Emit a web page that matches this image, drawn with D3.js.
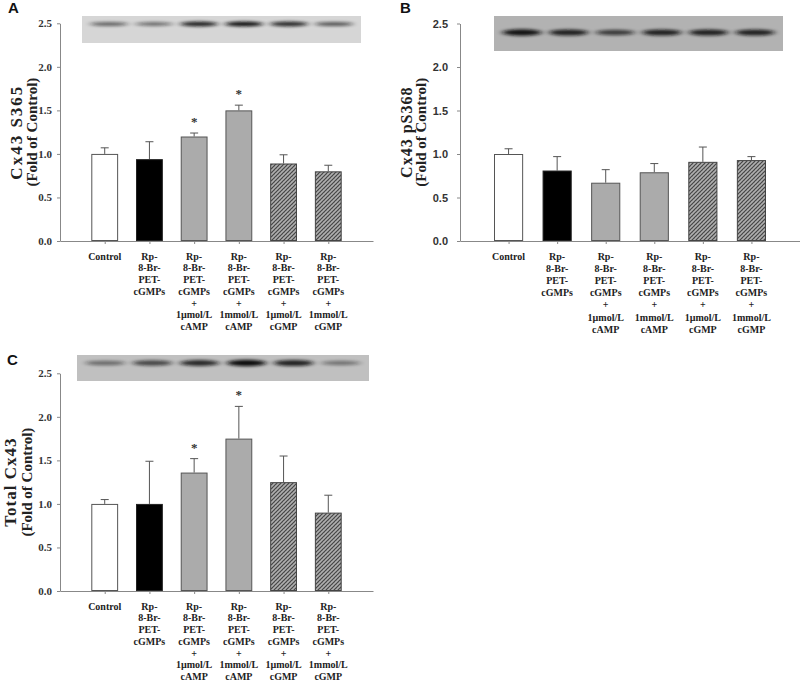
<!DOCTYPE html>
<html>
<head>
<meta charset="utf-8">
<script src="https://cdn.jsdelivr.net/npm/d3@7"></script>
<style>
  html, body { margin: 0; padding: 0; background: #fff; }
  svg { display: block; }
</style>
</head>
<body>
<svg id="chart" width="800" height="681"></svg>
<script>
// ---------------- DATA ----------------
const categories = [
  "Control",
  "Rp-8-Br-PET-cGMPs",
  "Rp-8-Br-PET-cGMPs + 1µmol/L cAMP",
  "Rp-8-Br-PET-cGMPs + 1mmol/L cAMP",
  "Rp-8-Br-PET-cGMPs + 1µmol/L cGMP",
  "Rp-8-Br-PET-cGMPs + 1mmol/L cGMP"
];
const categoryLines = [
  ["Control"],
  ["Rp-", "8-Br-", "PET-", "cGMPs"],
  ["Rp-", "8-Br-", "PET-", "cGMPs", "+", "1µmol/L", "cAMP"],
  ["Rp-", "8-Br-", "PET-", "cGMPs", "+", "1mmol/L", "cAMP"],
  ["Rp-", "8-Br-", "PET-", "cGMPs", "+", "1µmol/L", "cGMP"],
  ["Rp-", "8-Br-", "PET-", "cGMPs", "+", "1mmol/L", "cGMP"]
];
const barStyle = ["white", "black", "gray", "gray", "hatch", "hatch"];

const yTicks = [0, 0.5, 1.0, 1.5, 2.0, 2.5];

// Panel A: Cx43 S365
const meanA = [1.00, 0.94, 1.20, 1.50, 0.89, 0.80];
const errA  = [0.07, 0.20, 0.04, 0.06, 0.10, 0.07];
const sigA  = [false, false, true, true, false, false];
const blotA = [0.45, 0.40, 0.85, 0.95, 0.80, 0.55];

// Panel B: Cx43 pS368
const meanB = [1.00, 0.81, 0.67, 0.79, 0.91, 0.93];
const errB  = [0.06, 0.16, 0.15, 0.10, 0.17, 0.04];
const sigB  = [false, false, false, false, false, false];
const blotB = [0.95, 0.85, 0.65, 0.85, 0.85, 0.85];

// Panel C: Total Cx43
const meanC = [1.00, 1.00, 1.36, 1.75, 1.25, 0.90];
const errC  = [0.05, 0.49, 0.16, 0.37, 0.30, 0.20];
const sigC  = [false, false, true, true, false, false];
const blotC = [0.35, 0.60, 0.80, 1.00, 0.85, 0.30];

// ---------------- RENDER ----------------
const SERIF = "'Liberation Serif','Times New Roman',serif";
const SANS = "'Liberation Sans',Arial,sans-serif";
const svg = d3.select("#chart");
const defs = svg.append("defs");

// hatch pattern
const pat = defs.append("pattern")
  .attr("id", "hatch").attr("patternUnits", "userSpaceOnUse")
  .attr("width", 4).attr("height", 4);
pat.append("rect").attr("width", 4).attr("height", 4).attr("fill", "#b0b0b0");
pat.append("path").attr("d", "M-1,1 l2,-2 M0,4 l4,-4 M3,5 l2,-2")
  .attr("stroke", "#454545").attr("stroke-width", 1.2);
pat.append("path").attr("d", "M0,0 l1,1 M2,2 l1,1")
  .attr("stroke", "#7a7a7a").attr("stroke-width", 0.6);

// blur filter for blot bands
const f = defs.append("filter").attr("id", "blur").attr("x", "-30%").attr("y", "-200%")
  .attr("width", "160%").attr("height", "500%");
f.append("feGaussianBlur").attr("stdDeviation", "3 1.5");

const fills = { white: "#ffffff", black: "#000000", gray: "#ababab", hatch: "url(#hatch)" };
const strokes = { white: "#555", black: "#222", gray: "#555", hatch: "#444" };

function panel(cfg) {
  const g = svg.append("g");
  const x = d3.scaleLinear().domain([0, 7]).range([cfg.x0, cfg.x1]);
  const y = d3.scaleLinear().domain([0, 2.5]).range([cfg.yBottom, cfg.yTop]);
  const step = x(1) - x(0);
  const bw = step * 0.6;

  // blot image
  const bl = cfg.blot;
  const bg = g.append("g");
  bg.append("rect").attr("x", bl.x).attr("y", bl.y).attr("width", bl.w).attr("height", bl.h)
    .attr("fill", bl.bg);
  const lane = d3.scalePoint().domain(d3.range(6)).range([bl.x, bl.x + bl.w]).padding(0.6);
  bg.selectAll("ellipse").data(bl.values).join("ellipse")
    .attr("cx", (d, i) => lane(i))
    .attr("cy", bl.y + bl.bandY)
    .attr("rx", lane.step() * 0.42)
    .attr("ry", d => bl.bandH * (0.6 + 0.5 * d))
    .attr("fill", "#111")
    .attr("opacity", d => 0.2 + 0.8 * d)
    .attr("filter", "url(#blur)");

  // axes
  const yAxis = d3.axisLeft(y).tickValues(yTicks).tickFormat(d3.format(".1f"))
    .tickSizeInner(3).tickSizeOuter(0).tickPadding(cfg.tickPad);
  const ya = g.append("g").attr("transform", `translate(${cfg.x0},0)`).call(yAxis);
  ya.select(".domain").attr("stroke", "#888");
  ya.selectAll(".tick line").attr("stroke", "#888");
  ya.selectAll(".tick text").attr("font-family", cfg.tickFont).attr("font-weight", "bold")
    .attr("font-size", cfg.tickSize).attr("fill", "#333");

  const xAxis = d3.axisBottom(x).tickValues(d3.range(1, 7)).tickFormat("")
    .tickSizeInner(3).tickSizeOuter(0);
  const xa = g.append("g").attr("transform", `translate(0,${cfg.yBottom})`).call(xAxis);
  xa.select(".domain").attr("stroke", "#888");
  xa.selectAll(".tick line").attr("stroke", "#888");

  // category labels
  const lab = g.append("g");
  categoryLines.forEach((lines, i) => {
    const t = lab.append("text").attr("text-anchor", "middle")
      .attr("font-family", SERIF).attr("font-weight", "bold").attr("font-size", 10)
      .attr("fill", "#222");
    lines.forEach((ln, k) => {
      t.append("tspan").attr("x", x(i + 1)).attr("y", cfg.yBottom + 18.5 + k * cfg.lineH).text(ln);
    });
  });

  // bars
  const data = cfg.mean.map((m, i) => ({ m, e: cfg.err[i], s: cfg.sig[i], st: barStyle[i], i }));
  const bars = g.append("g");
  bars.selectAll("line.err").data(data).join("line").attr("class", "err")
    .attr("x1", d => x(d.i + 1)).attr("x2", d => x(d.i + 1))
    .attr("y1", d => y(d.m)).attr("y2", d => y(d.m + d.e))
    .attr("stroke", "#555").attr("stroke-width", 1);
  bars.selectAll("line.cap").data(data).join("line").attr("class", "cap")
    .attr("x1", d => x(d.i + 1) - 4).attr("x2", d => x(d.i + 1) + 4)
    .attr("y1", d => y(d.m + d.e)).attr("y2", d => y(d.m + d.e))
    .attr("stroke", "#555").attr("stroke-width", 1);
  bars.selectAll("rect").data(data).join("rect")
    .attr("x", d => x(d.i + 1) - bw / 2 + 0.5)
    .attr("y", d => y(d.m) + 0.5)
    .attr("width", bw - 1)
    .attr("height", d => y(0) - y(d.m) - 1)
    .attr("fill", d => fills[d.st])
    .attr("stroke", d => strokes[d.st]).attr("stroke-width", 1);
  bars.selectAll("text.sig").data(data.filter(d => d.s)).join("text").attr("class", "sig")
    .attr("x", d => x(d.i + 1)).attr("y", d => y(d.m + d.e) - 14 + 7)
    .attr("text-anchor", "middle").attr("font-family", SERIF).attr("font-weight", "bold")
    .attr("font-size", 13).attr("fill", "#333").text("*");

  // y label
  const cy = (cfg.yTop + cfg.yBottom) / 2;
  g.append("text").attr("transform", `translate(${cfg.lab1X},${cy}) rotate(-90)`)
    .attr("text-anchor", "middle").attr("font-family", SERIF).attr("font-weight", "bold")
    .attr("font-size", cfg.lab1Size).attr("letter-spacing", cfg.lab1LS).attr("fill", "#222")
    .text(cfg.label1);
  g.append("text").attr("transform", `translate(${cfg.lab2X},${cy}) rotate(-90)`)
    .attr("text-anchor", "middle").attr("font-family", SERIF).attr("font-weight", "bold")
    .attr("font-size", 15).attr("fill", "#222")
    .text("(Fold of Control)");

  svg.append("text").attr("x", cfg.letterX).attr("y", cfg.letterY)
    .attr("font-family", SANS).attr("font-weight", "bold").attr("font-size", 15)
    .attr("fill", "#111").text(cfg.letter);
}

panel({
  letter: "A", letterX: 8, letterY: 13,
  x0: 60, x1: 373, yTop: 23.3, yBottom: 241,
  mean: meanA, err: errA, sig: sigA,
  blot: { x: 82, y: 16, w: 279, h: 27, bg: "#d6d6d6", bandY: 8, bandH: 2.4, values: blotA },
  tickFont: SERIF, tickSize: 11, tickPad: 5, lineH: 11.75,
  label1: "Cx43 S365", lab1X: 22, lab1Size: 17, lab1LS: 2, lab2X: 37
});
panel({
  letter: "B", letterX: 400, letterY: 13,
  x0: 460, x1: 800, yTop: 23.5, yBottom: 241,
  mean: meanB, err: errB, sig: sigB,
  blot: { x: 494, y: 16, w: 289, h: 35, bg: "#b2b2b2", bandY: 16.5, bandH: 3.0, values: blotB },
  tickFont: SANS, tickSize: 11, tickPad: 9, lineH: 12.2,
  label1: "Cx43 pS368", lab1X: 412, lab1Size: 16, lab1LS: 1, lab2X: 426
});
panel({
  letter: "C", letterX: 7, letterY: 365,
  x0: 60, x1: 373, yTop: 373.3, yBottom: 591,
  mean: meanC, err: errC, sig: sigC,
  blot: { x: 77, y: 355, w: 292, h: 26, bg: "#c0c0c0", bandY: 8, bandH: 3.0, values: blotC },
  tickFont: SERIF, tickSize: 11, tickPad: 5, lineH: 11.75,
  label1: "Total Cx43", lab1X: 16, lab1Size: 17, lab1LS: 1, lab2X: 32
});
</script>
</body>
</html>
